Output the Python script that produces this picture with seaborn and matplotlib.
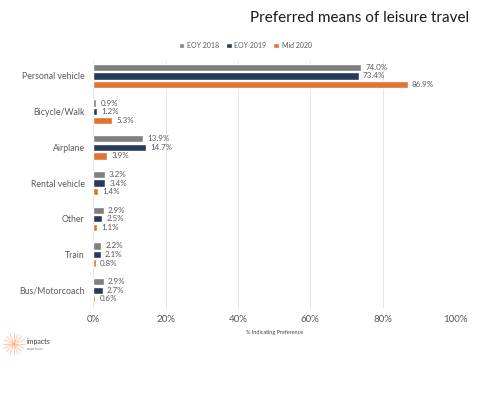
import numpy as np
import pandas as pd
import seaborn as sns
import matplotlib.pyplot as plt

categories = ["Personal vehicle", "Bicycle/Walk", "Airplane", "Rental vehicle",
              "Other", "Train", "Bus/Motorcoach"]
eoy_2018 = [74.0, 0.9, 13.9, 3.2, 2.9, 2.2, 2.9]
eoy_2019 = [73.4, 1.2, 14.7, 3.4, 2.5, 2.1, 2.7]
mid_2020 = [86.9, 5.3, 3.9, 1.4, 1.1, 0.8, 0.6]
series = ["EOY 2018", "EOY 2019", "Mid 2020"]
colors = ["#7f7f7f", "#1f3864", "#ff6a13"]

df = pd.DataFrame({"category": categories * 3,
                   "series": [s for s in series for _ in categories],
                   "value": eoy_2018 + eoy_2019 + mid_2020})

sns.set_style("white")
plt.rcParams["font.family"] = ["Lato", "DejaVu Sans"]

fig = plt.figure(figsize=(4.8, 3.94), dpi=100)
ax = fig.add_axes([0.194, 0.218, 0.754, 0.63])

sns.barplot(data=df, y="category", x="value", hue="series", palette=colors,
            orient="h", width=0.72, gap=0.15, ax=ax, legend=True)

for cont in ax.containers:
    ax.bar_label(cont, labels=[f"{v:.1f}%" for v in cont.datavalues],
                 padding=3, fontsize=5.8, color="#595959")

ax.set_xlim(0, 100)
ax.set_ylim(6.5, -0.45)
ax.set_xticks(range(0, 101, 20))
ax.set_xticklabels([f"{t}%" for t in range(0, 101, 20)])
ax.tick_params(axis="x", labelsize=7, colors="#595959", length=0, pad=5)
ax.tick_params(axis="y", labelsize=6.3, colors="#595959", length=0, pad=6)
ax.grid(axis="x", color="#e6e6e6", linewidth=0.7)
ax.set_axisbelow(True)
for s in ax.spines.values():
    s.set_visible(False)
ax.set_ylabel("")
ax.set_xlabel("% Indicating Preference", fontsize=4, color="#404040", labelpad=4)

ax.legend(loc="lower center", bbox_to_anchor=(0.42, 1.02), ncol=3, frameon=False,
          fontsize=5, handlelength=0.8, handleheight=0.8, handletextpad=0.4,
          columnspacing=1.0, labelcolor="#595959")

fig.text(0.978, 0.955, "Preferred means of leisure travel", ha="right", va="center",
         fontsize=11, color="#1a1a1a")

# logo
cx, cy = 14 / 480, 1 - 344 / 394
for a in np.linspace(0, 2 * np.pi, 16, endpoint=False):
    fig.add_artist(plt.Line2D([cx, cx + 0.022 * np.cos(a)],
                              [cy, cy + 0.027 * np.sin(a)],
                              color="#ffb48a", linewidth=0.5, transform=fig.transFigure))
fig.text(27 / 480, cy + 0.006, "impacts", fontsize=5, color="#404040", va="center")
fig.text(27 / 480, cy - 0.012, "experience", fontsize=2.5, color="#808080", va="center")

fig.savefig("out.png", dpi=100)
